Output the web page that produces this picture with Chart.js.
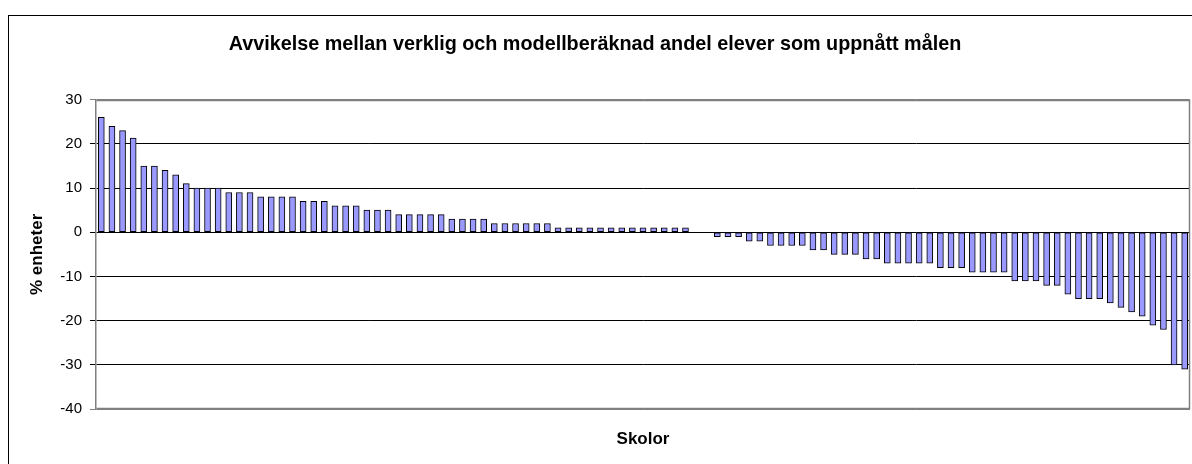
<!DOCTYPE html>
<html>
<head>
<meta charset="utf-8">
<script src="https://cdn.jsdelivr.net/npm/chart.js@4/dist/chart.umd.min.js"></script>
<style>
  body { margin: 0; background: #fff; }
  #wrap { width: 1192px; height: 464px; }
</style>
</head>
<body>
<div id="wrap"><canvas id="graph" width="1192" height="464"></canvas></div>
<script>
// avvikelse per skola (procentenheter), sorterad
var avvikelse = [
  26, 24, 23, 21.3, 15, 15, 14, 13, 11, 10, 10, 10, 9, 9, 9, 8, 8, 8, 8, 7, 7, 7, 6, 6, 6, 5, 5, 5,
  4, 4, 4, 4, 4, 3, 3, 3, 3, 2, 2, 2, 2, 2, 2,
  1, 1, 1, 1, 1, 1, 1, 1, 1, 1, 1, 1, 1,
  0, 0,
  -1, -1, -1, -2, -2, -3, -3, -3, -3, -4, -4, -5, -5, -5, -6, -6, -7, -7, -7, -7, -7,
  -8, -8, -8, -9, -9, -9, -9, -11, -11, -11, -12, -12, -14, -15, -15, -15, -16, -17, -18, -19, -21, -22, -30, -31
];
var skolor = avvikelse.map(function (v, i) { return 'Skola ' + (i + 1); });

var titel = 'Avvikelse mellan verklig och modellberäknad andel elever som uppnått målen';
var yTitel = '% enheter';
var xTitel = 'Skolor';
var yMin = -40, yMax = 30, yStep = 10;

var font = '"Liberation Sans", Arial, sans-serif';

// frame round the chart + grey plot area border
const frames = {
  id: 'frames',
  beforeDraw(chart) {
    const c = chart.ctx;
    c.save();
    c.fillStyle = '#fff';
    c.fillRect(0, 0, chart.width, chart.height);
    c.strokeStyle = '#000';
    c.lineWidth = 1;
    c.strokeRect(8.5, 15.5, chart.width + 10, chart.height + 10);
    c.restore();
  },
  afterDraw(chart) {
    const a = chart.chartArea;
    const c = chart.ctx;
    c.save();
    c.strokeStyle = '#808080';
    c.lineWidth = 1.5;
    c.beginPath();
    c.moveTo(Math.round(a.left) + 0.5, Math.round(a.top) + 0.5);
    c.lineTo(Math.round(a.right) - 0.5, Math.round(a.top) + 0.5);
    c.lineTo(Math.round(a.right) - 0.5, Math.round(a.bottom) - 0.5);
    c.lineTo(Math.round(a.left) + 0.5, Math.round(a.bottom) - 0.5);
    c.stroke();
    c.restore();
  }
};

const config = {
  type: 'bar',
  data: {
    labels: skolor,
    datasets: [{
      data: avvikelse,
      backgroundColor: '#9999FF',
      borderColor: '#000',
      borderWidth: 1,
      borderSkipped: false,
      barThickness: 6
    }]
  },
  options: {
    responsive: false,
    animation: false,
    devicePixelRatio: 1,
    layout: { padding: { left: 0, right: 2, top: 0, bottom: 0 } },
    plugins: {
      legend: { display: false },
      tooltip: { enabled: false },
      title: {
        display: true,
        text: titel,
        color: '#000',
        font: { family: font, size: 19.8, weight: 'bold' },
        padding: { top: 33, bottom: 43 }
      }
    },
    scales: {
      x: {
        grid: { display: false },
        border: { display: false },
        ticks: { display: false },
        title: {
          display: true,
          text: xTitel,
          color: '#000',
          font: { family: font, size: 17, weight: 'bold' },
          padding: { top: 0, bottom: 14 }
        },
        afterFit: function (scale) { scale.height = 55; }
      },
      y: {
        min: yMin,
        max: yMax,
        ticks: {
          stepSize: yStep,
          color: '#000',
          padding: 8,
          font: { family: font, size: 15 }
        },
        grid: {
          color: function (ctx) {
            if (ctx.tick && (ctx.tick.value === yMax || ctx.tick.value === yMin)) return '#808080';
            return '#000';
          },
          tickLength: 6,
          lineWidth: 1
        },
        border: { color: '#808080', width: 1.5 },
        title: {
          display: true,
          text: yTitel,
          color: '#000',
          font: { family: font, size: 17, weight: 'bold' },
          padding: { top: 27, bottom: 0 }
        },
        afterFit: function (scale) { scale.width = 96; }
      }
    }
  },
  plugins: [frames]
};

const skolChart = new Chart(document.getElementById('graph'), config);
</script>
</body>
</html>
